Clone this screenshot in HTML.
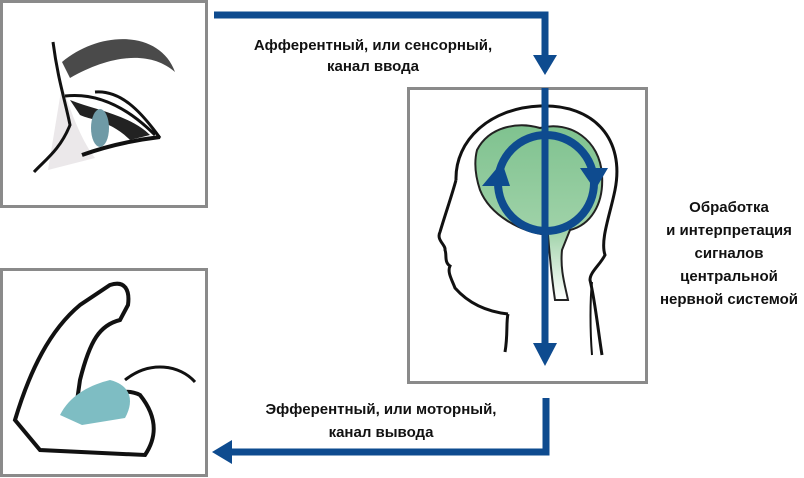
<!DOCTYPE html>
<html><head><meta charset="utf-8"><style>
html,body{margin:0;padding:0;background:#fff;width:804px;height:478px;overflow:hidden}
svg{display:block}
text{font-family:"Liberation Sans",sans-serif;font-size:15px;font-weight:bold;fill:#111;text-anchor:middle}
</style></head><body>
<svg width="804" height="478" viewBox="0 0 804 478">
<defs>
<linearGradient id="g" x1="0" y1="0" x2="0" y2="1">
<stop offset="0" stop-color="#7fc28f"/><stop offset="0.6" stop-color="#9fd2a8"/><stop offset="1" stop-color="#fff"/>
</linearGradient>
</defs>
<rect x="1.5" y="1.5" width="205" height="205" fill="#fff" stroke="#8a8a8a" stroke-width="3"/>
<rect x="1.5" y="269.5" width="205" height="206" fill="#fff" stroke="#8a8a8a" stroke-width="3"/>
<rect x="408.5" y="88.5" width="238" height="294" fill="#fff" stroke="#8a8a8a" stroke-width="3"/>

<!-- eye -->
<path d="M62,62 C100,30 160,30 175,72 C150,50 110,55 70,78 Z" fill="#4a4a4a"/>
<path d="M62,85 C75,125 85,145 95,158 L48,170 Z" fill="#ebe8ea"/>
<path d="M53,42 C58,80 65,100 70,125 C60,150 45,160 34,172" fill="none" stroke="#111" stroke-width="3"/>
<path d="M65,96 C100,92 130,110 155,135 M95,92 C120,90 140,110 160,138" fill="none" stroke="#111" stroke-width="3"/>
<path d="M70,100 C95,110 130,115 150,135 L130,140 C110,120 90,120 80,115 Z" fill="#222"/>
<path d="M82,155 C110,145 135,140 160,137" fill="none" stroke="#111" stroke-width="4"/>
<ellipse cx="100" cy="128" rx="9" ry="19" fill="#6f9aa6"/>

<!-- arm -->
<path d="M15,420 C30,370 50,330 80,305 L110,285 C125,280 130,290 128,305 L120,320 C100,325 90,340 80,380 L75,415 C95,400 120,385 140,395 C160,420 155,440 145,455 L40,450 Z" fill="#fff" stroke="#111" stroke-width="4"/>
<path d="M60,415 C70,395 90,385 110,380 C130,385 135,400 125,418 L82,425 Z" fill="#7ebdc3"/>
<path d="M125,380 C150,360 180,365 195,382" fill="none" stroke="#111" stroke-width="3"/>

<!-- head -->
<path d="M477,150 C490,125 520,122 540,128 C570,120 600,140 602,175 C604,205 590,225 570,230 L562,250 C560,270 565,285 568,300 L555,300 C552,280 550,260 548,235 C520,232 490,215 480,190 C475,175 474,162 477,150 Z" fill="url(#g)" stroke="#222" stroke-width="2"/>
<path d="M505,352 C508,335 506,322 508,314 M456,180 C455,140 490,108 540,106 C595,104 625,140 615,190 C610,215 600,240 605,255 C600,265 590,272 590,280 C595,300 598,330 602,355" fill="none" stroke="#111" stroke-width="3"/>
<path d="M456,180 C452,195 445,215 440,232 C436,240 446,245 445,250 C447,255 444,262 450,266 C447,272 452,280 455,288 C470,305 490,312 508,314" fill="none" stroke="#111" stroke-width="3"/>
<path d="M592,282 C590,300 590,330 592,355" fill="none" stroke="#111" stroke-width="2"/>

<!-- head arrows -->
<line x1="545" y1="88" x2="545" y2="350" stroke="#0e4b8f" stroke-width="7"/>
<polygon points="533,343 557,343 545,366" fill="#0e4b8f"/>
<circle cx="546" cy="183" r="48" fill="none" stroke="#0e4b8f" stroke-width="8"/>
<polygon points="482,186 502,162 510,186" fill="#0e4b8f"/>
<polygon points="580,168 608,168 595,190" fill="#0e4b8f"/>

<!-- connectors -->
<polyline points="214,15 545,15 545,62" fill="none" stroke="#0e4b8f" stroke-width="7"/>
<polygon points="533,55 557,55 545,75" fill="#0e4b8f"/>
<polyline points="546,398 546,452 228,452" fill="none" stroke="#0e4b8f" stroke-width="7"/>
<polygon points="232,440 232,464 212,452" fill="#0e4b8f"/>

<!-- labels -->
<text x="373" y="50">Афферентный, или сенсорный,</text>
<text x="373" y="71">канал ввода</text>
<text x="729" y="212">Обработка</text>
<text x="729" y="235">и интерпретация</text>
<text x="729" y="258">сигналов</text>
<text x="729" y="281">центральной</text>
<text x="729" y="304">нервной системой</text>
<text x="381" y="414">Эфферентный, или моторный,</text>
<text x="381" y="437">канал вывода</text>
</svg>
</body></html>
